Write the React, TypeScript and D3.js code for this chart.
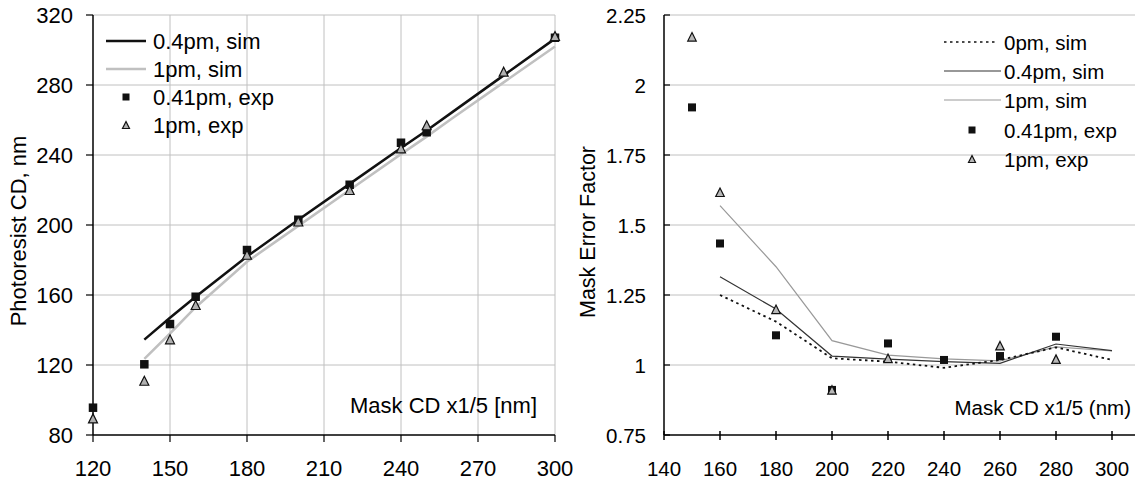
import React from "react";
import * as d3 from "d3";

// ---------- Left chart data ----------
const leftSimX = [140, 150, 160, 180, 200, 220, 240, 250, 260, 280, 300];
const left04Sim = [134.5, 147, 159, 182, 203, 223.5, 244, 254, 264.5, 285.5, 306.5];
const left1Sim = [123.5, 138, 153, 179, 199.5, 220, 240.5, 250.5, 261, 281.5, 302];
const left041ExpX = [120, 140, 150, 160, 180, 200, 220, 240, 250, 300];
const left041Exp = [95.6, 120.4, 143.4, 159, 185.7, 203, 223, 247, 253, 307];
const left1ExpX = [120, 140, 150, 160, 180, 200, 220, 240, 250, 280, 300];
const left1Exp = [89.5, 111, 134.7, 154.3, 183, 202, 220, 243.8, 257, 287.6, 308];
const leftXTicks = [120, 150, 180, 210, 240, 270, 300];
const leftYTicks = [80, 120, 160, 200, 240, 280, 320];

// ---------- Right chart data ----------
const rightSimX = [160, 180, 200, 220, 240, 260, 280, 300];
const right0Sim = [1.25, 1.155, 1.024, 1.012, 0.99, 1.018, 1.063, 1.018];
const right04Sim = [1.315, 1.2, 1.032, 1.021, 1.012, 1.006, 1.075, 1.051];
const right1Sim = [1.569, 1.351, 1.087, 1.035, 1.022, 1.015, 1.065, 1.05];
const right041ExpX = [150, 160, 180, 200, 220, 240, 260, 280];
const right041Exp = [1.92, 1.434, 1.106, 0.911, 1.077, 1.018, 1.032, 1.101];
const right1ExpX = [150, 160, 180, 200, 220, 260, 280];
const right1Exp = [2.172, 1.617, 1.199, 0.911, 1.024, 1.069, 1.021];
const rightXTicks = [140, 160, 180, 200, 220, 240, 260, 280, 300];
const rightYTicks = [0.75, 1, 1.25, 1.5, 1.75, 2, 2.25];

const FONT = "'Liberation Sans', Arial, sans-serif";
const FSL = 22;
const FSR = 20.5;
const GRID = "#c0c0c0";

const Square = ({ x, y, s }: { x: number; y: number; s: number }) => (
  <rect x={x - s / 2} y={y - s / 2} width={s} height={s} fill="#111" />
);
const Tri = ({ x, y, s, fill }: { x: number; y: number; s: number; fill: string }) => (
  <path
    d={`M${x},${y - s / 2} L${x + s / 2},${y + s / 2} L${x - s / 2},${y + s / 2} Z`}
    fill={fill}
    stroke="#111"
    strokeWidth={1.2}
  />
);

export default function App() {
  // Left scales
  const lx = d3.scaleLinear().domain([120, 300]).range([93, 555]);
  const ly = d3.scaleLinear().domain([80, 320]).range([435, 15]);
  // Right scales
  const rx = d3.scaleLinear().domain([140, 300]).range([664, 1112]);
  const ry = d3.scaleLinear().domain([0.75, 2.25]).range([435, 15]);

  const lLine = (xs: number[], ys: number[]) =>
    d3.line<number>().x((_, i) => lx(xs[i])).y((d) => ly(d))(ys) || "";
  const rLine = (xs: number[], ys: number[]) =>
    d3.line<number>().x((_, i) => rx(xs[i])).y((d) => ry(d))(ys) || "";

  const rRight = 1135;

  return (
    <svg
      width={1135}
      height={483}
      style={{ position: "absolute", left: 0, top: 0, background: "#fff" }}
      fontFamily={FONT}
    >
      <rect width={1135} height={483} fill="#fff" />
      {/* ---------- LEFT CHART ---------- */}
      {leftYTicks.slice(1).map((t) => (
        <line key={"lgy" + t} x1={93} x2={555} y1={ly(t)} y2={ly(t)} stroke={GRID} strokeWidth={1} />
      ))}
      {leftXTicks.slice(1).map((t) => (
        <line key={"lgx" + t} x1={lx(t)} x2={lx(t)} y1={15} y2={435} stroke={GRID} strokeWidth={1} />
      ))}
      {/* axes */}
      <line x1={93} x2={93} y1={15} y2={435} stroke="#000" strokeWidth={1.5} />
      <line x1={93} x2={555} y1={435} y2={435} stroke="#000" strokeWidth={1.5} />
      {leftYTicks.map((t) => (
        <g key={"lty" + t}>
          <line x1={86} x2={93} y1={ly(t)} y2={ly(t)} stroke="#000" strokeWidth={1.2} />
          <text x={73} y={ly(t)} textAnchor="end" dominantBaseline="central" fontSize={FSL}>
            {t}
          </text>
        </g>
      ))}
      {leftXTicks.map((t) => (
        <g key={"ltx" + t}>
          <line x1={lx(t)} x2={lx(t)} y1={435} y2={442} stroke="#000" strokeWidth={1.2} />
          <text x={lx(t)} y={468} textAnchor="middle" dominantBaseline="central" fontSize={FSL}>
            {t}
          </text>
        </g>
      ))}
      <text
        transform="translate(18,231) rotate(-90)"
        textAnchor="middle"
        dominantBaseline="central"
        fontSize={FSL}
      >
        Photoresist CD, nm
      </text>
      <text x={537} y={405} textAnchor="end" dominantBaseline="central" fontSize={FSL}>
        Mask CD x1/5 [nm]
      </text>
      {/* lines */}
      <path d={lLine(leftSimX, left1Sim)} fill="none" stroke="#c0c0c0" strokeWidth={2.5} />
      <path d={lLine(leftSimX, left04Sim)} fill="none" stroke="#111" strokeWidth={2.5} />
      {left041Exp.map((v, i) => (
        <Square key={"lsq" + i} x={lx(left041ExpX[i])} y={ly(v)} s={8.5} />
      ))}
      {left1Exp.map((v, i) => (
        <Tri key={"ltr" + i} x={lx(left1ExpX[i])} y={ly(v)} s={9} fill="#b0b0b0" />
      ))}
      {/* left legend */}
      <line x1={106} x2={146} y1={41} y2={41} stroke="#111" strokeWidth={2.5} />
      <text x={153} y={41} dominantBaseline="central" fontSize={FSL}>0.4pm, sim</text>
      <line x1={106} x2={146} y1={69} y2={69} stroke="#c0c0c0" strokeWidth={2.5} />
      <text x={153} y={69} dominantBaseline="central" fontSize={FSL}>1pm, sim</text>
      <Square x={126} y={97} s={7} />
      <text x={153} y={97} dominantBaseline="central" fontSize={FSL}>0.41pm, exp</text>
      <Tri x={126} y={125} s={7} fill="#b0b0b0" />
      <text x={153} y={125} dominantBaseline="central" fontSize={FSL}>1pm, exp</text>

      {/* ---------- RIGHT CHART ---------- */}
      {rightYTicks.slice(1).map((t) => (
        <line key={"rgy" + t} x1={664} x2={rRight} y1={ry(t)} y2={ry(t)} stroke={GRID} strokeWidth={1} />
      ))}
      <line x1={664} x2={664} y1={15} y2={435} stroke="#000" strokeWidth={1.5} />
      <line x1={664} x2={rRight} y1={435} y2={435} stroke="#000" strokeWidth={1.5} />
      {rightYTicks.map((t) => (
        <g key={"rty" + t}>
          <line x1={664} x2={670} y1={ry(t)} y2={ry(t)} stroke="#000" strokeWidth={1.2} />
          <text x={646} y={ry(t)} textAnchor="end" dominantBaseline="central" fontSize={FSR}>
            {t}
          </text>
        </g>
      ))}
      {rightXTicks.map((t) => (
        <g key={"rtx" + t}>
          <line x1={rx(t)} x2={rx(t)} y1={431} y2={440} stroke="#000" strokeWidth={1.5} />
          <text x={rx(t)} y={468} textAnchor="middle" dominantBaseline="central" fontSize={FSR}>
            {t}
          </text>
        </g>
      ))}
      <text
        transform="translate(588,232) rotate(-90)"
        textAnchor="middle"
        dominantBaseline="central"
        fontSize={21.5}
      >
        Mask Error Factor
      </text>
      <text x={1131} y={407} textAnchor="end" dominantBaseline="central" fontSize={FSR}>
        Mask CD x1/5 (nm)
      </text>
      <path d={rLine(rightSimX, right1Sim)} fill="none" stroke="#999" strokeWidth={1.2} />
      <path d={rLine(rightSimX, right04Sim)} fill="none" stroke="#333" strokeWidth={1.2} />
      <path
        d={rLine(rightSimX, right0Sim)}
        fill="none"
        stroke="#111"
        strokeWidth={1.8}
        strokeDasharray="2.5,3.5"
      />
      {right041Exp.map((v, i) => (
        <Square key={"rsq" + i} x={rx(right041ExpX[i])} y={ry(v)} s={8} />
      ))}
      {right1Exp.map((v, i) => (
        <Tri key={"rtr" + i} x={rx(right1ExpX[i])} y={ry(v)} s={8.5} fill="#b8b8b8" />
      ))}
      {/* right legend */}
      <line x1={944} x2={995} y1={42} y2={42} stroke="#111" strokeWidth={1.5} strokeDasharray="2.5,3.5" />
      <text x={1004} y={42} dominantBaseline="central" fontSize={FSR}>0pm, sim</text>
      <line x1={944} x2={1001} y1={71} y2={71} stroke="#333" strokeWidth={1.2} />
      <text x={1004} y={71} dominantBaseline="central" fontSize={FSR}>0.4pm, sim</text>
      <line x1={944} x2={1001} y1={100} y2={100} stroke="#999" strokeWidth={1.2} />
      <text x={1004} y={100} dominantBaseline="central" fontSize={FSR}>1pm, sim</text>
      <Square x={972} y={130} s={7} />
      <text x={1004} y={130} dominantBaseline="central" fontSize={FSR}>0.41pm, exp</text>
      <Tri x={972} y={159} s={7} fill="#b8b8b8" />
      <text x={1004} y={159} dominantBaseline="central" fontSize={FSR}>1pm, exp</text>
    </svg>
  );
}
